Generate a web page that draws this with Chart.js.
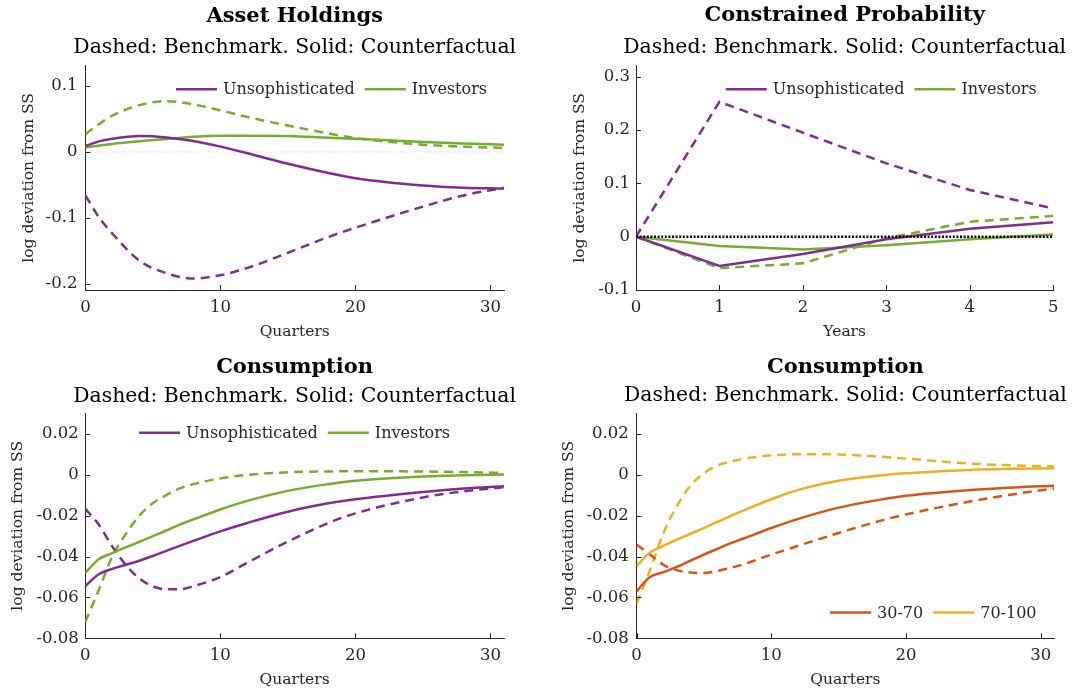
<!DOCTYPE html>
<html>
<head>
<meta charset="utf-8">
<title>Impulse responses</title>
<script src="https://cdn.jsdelivr.net/npm/chart.js@4.4.1/dist/chart.umd.min.js"></script>
<style>
  body { margin: 0; background: #fff; width: 1073px; height: 692px; position: relative; overflow: hidden; }
  canvas { position: absolute; }
</style>
</head>
<body>
<canvas id="assets" width="530" height="345" style="left:0;top:0"></canvas>
<canvas id="prob" width="543" height="345" style="left:530px;top:0"></canvas>
<canvas id="consGroups" width="530" height="347" style="left:0;top:345px"></canvas>
<canvas id="consIncome" width="543" height="347" style="left:530px;top:345px"></canvas>
<script>
/* Asset holdings, quarters */
const assetQuarters = [0, 1, 2, 4, 6, 8, 10, 12, 15, 18, 20, 25, 28, 31];
const assetUnsophBench = [-0.066, -0.099, -0.124, -0.165, -0.184, -0.192, -0.187, -0.176, -0.153, -0.129, -0.115, -0.083, -0.066, -0.0545];
const assetUnsophCounter = [0.009, 0.016, 0.020, 0.024, 0.022, 0.0165, 0.008, -0.002, -0.018, -0.032, -0.040, -0.051, -0.0543, -0.0556];
const assetInvBench = [0.027, 0.042, 0.055, 0.071, 0.077, 0.072, 0.063, 0.053, 0.040, 0.028, 0.021, 0.011, 0.008, 0.006];
const assetInvCounter = [0.007, 0.0095, 0.012, 0.016, 0.0195, 0.023, 0.0245, 0.0246, 0.024, 0.0215, 0.020, 0.015, 0.0128, 0.011];
const assetXTicks = [0, 10, 20, 30];
const assetYTicks = [-0.2, -0.1, 0, 0.1];
const assetZeroX = [0, 31];
const assetZeroY = [0, 0];

/* Constrained probability, years */
const probYears = [0, 1, 2, 3, 4, 5];
const probUnsophBench = [0, 0.253, 0.195, 0.1375, 0.0875, 0.053];
const probUnsophCounter = [0, -0.055, -0.0325, -0.005, 0.015, 0.027];
const probInvBench = [0, -0.059, -0.05, -0.003, 0.028, 0.039];
const probInvCounter = [0, -0.0175, -0.024, -0.016, -0.005, 0.004];
const probXTicks = [0, 1, 2, 3, 4, 5];
const probYTicks = [-0.1, 0, 0.1, 0.2, 0.3];
const probZeroX = [0, 5];
const probZeroY = [0, 0];

/* Consumption, quarters */
const consQuarters = [0, 1, 2, 3, 4, 5, 6, 7, 8, 10, 12, 15, 18, 20, 25, 28, 31];
const consUnsophBench = [-0.0165, -0.0243, -0.035, -0.044, -0.0507, -0.0545, -0.056, -0.056, -0.0545, -0.050, -0.043, -0.0326, -0.0235, -0.0188, -0.011, -0.008, -0.006];
const consUnsophCounter = [-0.0545, -0.0486, -0.046, -0.044, -0.042, -0.0397, -0.0372, -0.0347, -0.0323, -0.0276, -0.0235, -0.018, -0.0139, -0.0119, -0.0083, -0.0066, -0.0055];
const consInvBench = [-0.072, -0.0565, -0.040, -0.029, -0.020, -0.0139, -0.0099, -0.0066, -0.0045, -0.0017, 0, 0.0013, 0.0017, 0.0018, 0.0017, 0.0014, 0.001];
const consInvCounter = [-0.048, -0.0413, -0.0383, -0.0355, -0.0328, -0.030, -0.0272, -0.0243, -0.0218, -0.0169, -0.0127, -0.0078, -0.0045, -0.0028, -0.0008, -0.0002, 0.0002];
const consMidBench = [-0.034, -0.039, -0.044, -0.0466, -0.0478, -0.048, -0.047, -0.0455, -0.0436, -0.039, -0.0347, -0.0284, -0.0226, -0.0193, -0.0127, -0.0094, -0.0066];
const consMidCounter = [-0.057, -0.050, -0.0476, -0.045, -0.042, -0.039, -0.0362, -0.0334, -0.031, -0.026, -0.0215, -0.016, -0.0122, -0.0102, -0.0073, -0.0061, -0.0053];
const consTopBench = [-0.063, -0.0466, -0.0284, -0.0152, -0.0053, 0.0008, 0.0046, 0.0066, 0.008, 0.0096, 0.0102, 0.0100, 0.0090, 0.008, 0.0055, 0.0047, 0.0041];
const consTopCounter = [-0.0446, -0.038, -0.0347, -0.0317, -0.0288, -0.026, -0.023, -0.020, -0.0172, -0.0119, -0.0073, -0.0028, -0.0003, 0.0008, 0.0026, 0.003, 0.0033];
const consXTicks = [0, 10, 20, 30];
const consYTicks = [-0.08, -0.06, -0.04, -0.02, 0, 0.02];

const PURPLE = "#7E2F8E";
const GREEN = "#77AC30";
const ORANGE = "#D95319";
const YELLOW = "#EDB120";
const INK = "#262626";
const SERIF = '"DejaVu Serif", serif';
const SUBTITLE = "Dashed: Benchmark. Solid: Counterfactual";

function series(label, xs, ys, color, dashed, inLegend) {
  return {
    label: label,
    data: xs.map((x, i) => ({ x: x, y: ys[i] })),
    borderColor: color,
    borderWidth: 2.5,
    borderDash: dashed ? [9, 6] : [],
    inLegend: inLegend,
  };
}

/* Title and subtitle centred over the plot area. */
const panelTitle = {
  id: "panelTitle",
  afterDraw(chart, args, opts) {
    const ctx = chart.ctx;
    const a = chart.chartArea;
    const cx = (a.left + a.right) / 2;
    ctx.save();
    ctx.textAlign = "center";
    ctx.textBaseline = "middle";
    ctx.fillStyle = "#000";
    ctx.font = "bold 21px " + SERIF;
    ctx.fillText(opts.title, cx, opts.titleY);
    ctx.font = "20.4px " + SERIF;
    ctx.fillText(SUBTITLE, cx, opts.subY);
    ctx.restore();
  },
};

/* Horizontal legend drawn inside the plot area, solid lines only. */
const innerLegend = {
  id: "innerLegend",
  afterDatasetsDraw(chart, args, opts) {
    const ctx = chart.ctx;
    const a = chart.chartArea;
    const items = chart.data.datasets.filter((d) => d.inLegend);
    const lineLen = 41, gap = 6, sep = 10;
    ctx.save();
    ctx.font = "16px " + SERIF;
    const widths = items.map((d) => lineLen + gap + ctx.measureText(d.label).width);
    const total = widths.reduce((s, w) => s + w, 0) + sep * (items.length - 1);
    let x = opts.align === "center" ? (a.left + a.right - total) / 2 : a.right - opts.inset - total;
    const y = opts.fromBottom ? a.bottom - opts.offsetY : a.top + opts.offsetY;
    items.forEach((d, i) => {
      ctx.strokeStyle = d.borderColor;
      ctx.lineWidth = 2.5;
      ctx.setLineDash([]);
      ctx.beginPath();
      ctx.moveTo(x, y);
      ctx.lineTo(x + lineLen, y);
      ctx.stroke();
      ctx.fillStyle = INK;
      ctx.textAlign = "left";
      ctx.textBaseline = "middle";
      ctx.fillText(d.label, x + lineLen + gap, y + 1);
      x += widths[i] + sep;
    });
    ctx.restore();
  },
};

/* MATLAB style tick marks pointing into the plot. */
const innerTicks = {
  id: "innerTicks",
  afterDraw(chart) {
    const ctx = chart.ctx;
    const a = chart.chartArea;
    const xs = chart.scales.x;
    const ys = chart.scales.y;
    ctx.save();
    ctx.strokeStyle = INK;
    ctx.lineWidth = 1;
    ctx.beginPath();
    xs.ticks.forEach((t) => {
      const p = Math.round(xs.getPixelForValue(t.value)) + 0.5;
      ctx.moveTo(p, a.bottom);
      ctx.lineTo(p, a.bottom - 5);
    });
    ys.ticks.forEach((t) => {
      const p = Math.round(ys.getPixelForValue(t.value)) + 0.5;
      ctx.moveTo(a.left, p);
      ctx.lineTo(a.left + 5, p);
    });
    ctx.stroke();
    ctx.restore();
  },
};

function makePanel(id, o) {
  const tickFont = { family: SERIF, size: 16.5 };
  const titleFont = { family: SERIF, size: 15.5 };
  return new Chart(document.getElementById(id), {
    type: "line",
    data: { datasets: o.datasets },
    options: {
      responsive: false,
      animation: false,
      layout: { padding: { top: o.padTop, right: o.padRight, left: 0, bottom: 0 } },
      elements: {
        point: { radius: 0 },
        line: { cubicInterpolationMode: o.smooth ? "monotone" : "default", tension: 0, borderCapStyle: "butt" },
      },
      plugins: {
        legend: { display: false },
        tooltip: { enabled: false },
        panelTitle: { title: o.title, titleY: o.titleY, subY: o.subY },
        innerLegend: o.legend,
      },
      scales: {
        x: {
          type: "linear",
          min: o.xMin,
          max: o.xMax,
          afterBuildTicks: (s) => { s.ticks = o.xTicks.map((v) => ({ value: v })); },
          afterFit: (s) => { s.height = o.axisH; s.paddingLeft = 0; s.paddingRight = 0; },
          grid: { display: false, drawTicks: false },
          border: { display: true, color: INK, width: 1 },
          ticks: { color: INK, font: tickFont, padding: 8, maxRotation: 0, autoSkip: false, callback: (v) => String(v) },
          title: { display: true, text: o.xTitle, color: INK, font: titleFont, padding: { top: 0, bottom: o.xTitlePad } },
        },
        y: {
          min: o.yMin,
          max: o.yMax,
          afterBuildTicks: (s) => { s.ticks = o.yTicks.map((v) => ({ value: v })); },
          afterFit: (s) => { s.width = o.axisW; s.paddingTop = 0; s.paddingBottom = 0; },
          grid: { display: false, drawTicks: false },
          border: { display: true, color: INK, width: 1 },
          ticks: { color: INK, font: tickFont, padding: o.yTickPad, callback: (v) => String(Math.round(v * 1000) / 1000) },
          title: { display: true, text: "log deviation from SS", color: INK, font: titleFont, padding: { top: o.yTitlePad, bottom: 0 } },
        },
      },
    },
    plugins: [panelTitle, innerLegend, innerTicks],
  });
}

makePanel("assets", {
  title: "Asset Holdings", titleY: 17, subY: 47.5,
  datasets: [
    series("Unsophisticated", assetQuarters, assetUnsophCounter, PURPLE, false, true),
    series("Investors", assetQuarters, assetInvCounter, GREEN, false, true),
    series("Unsophisticated benchmark", assetQuarters, assetUnsophBench, PURPLE, true, false),
    series("Investors benchmark", assetQuarters, assetInvBench, GREEN, true, false),
    Object.assign(series("zero", assetZeroX, assetZeroY, "#c8c8c8", false, false), { borderWidth: 1, borderDash: [1, 2] }),
  ],
  smooth: true,
  xMin: 0, xMax: 31, yMin: -0.2095, yMax: 0.1308,
  xTicks: assetXTicks, yTicks: assetYTicks, xTitle: "Quarters",
  padTop: 65.7, padRight: 26, axisW: 85.4, axisH: 55,
  yTickPad: 8, yTitlePad: 19.5, xTitlePad: 3.5,
  legend: { align: "right", inset: 17, offsetY: 23.6 },
});

makePanel("prob", {
  title: "Constrained Probability", titleY: 16, subY: 47.7,
  datasets: [
    Object.assign(series("zero", probZeroX, probZeroY, "#000", false, false), { borderWidth: 2.5, borderDash: [2, 1.6] }),
    series("Unsophisticated", probYears, probUnsophCounter, PURPLE, false, true),
    series("Investors", probYears, probInvCounter, GREEN, false, true),
    series("Unsophisticated benchmark", probYears, probUnsophBench, PURPLE, true, false),
    series("Investors benchmark", probYears, probInvBench, GREEN, true, false),
  ],
  smooth: false,
  xMin: 0, xMax: 5, yMin: -0.1, yMax: 0.3206,
  xTicks: probXTicks, yTicks: probYTicks, xTitle: "Years",
  padTop: 65.7, padRight: 19.7, axisW: 106, axisH: 55,
  yTickPad: 6, yTitlePad: 40.7, xTitlePad: 3.7,
  legend: { align: "right", inset: 16.6, offsetY: 23.6 },
});

makePanel("consGroups", {
  title: "Consumption", titleY: 23, subY: 51.4,
  datasets: [
    series("Unsophisticated", consQuarters, consUnsophCounter, PURPLE, false, true),
    series("Investors", consQuarters, consInvCounter, GREEN, false, true),
    series("Unsophisticated benchmark", consQuarters, consUnsophBench, PURPLE, true, false),
    series("Investors benchmark", consQuarters, consInvBench, GREEN, true, false),
  ],
  smooth: true,
  xMin: 0, xMax: 31, yMin: -0.08, yMax: 0.0302,
  xTicks: consXTicks, yTicks: consYTicks, xTitle: "Quarters",
  padTop: 68.3, padRight: 26, axisW: 85.2, axisH: 53.7,
  yTickPad: 6.5, yTitlePad: 8.3, xTitlePad: 2.4,
  legend: { align: "center", offsetY: 19.4 },
});

makePanel("consIncome", {
  title: "Consumption", titleY: 23, subY: 51.2,
  datasets: [
    series("30-70", consQuarters, consMidCounter, ORANGE, false, true),
    series("70-100", consQuarters, consTopCounter, YELLOW, false, true),
    series("30-70 benchmark", consQuarters, consMidBench, ORANGE, true, false),
    series("70-100 benchmark", consQuarters, consTopBench, YELLOW, true, false),
  ],
  smooth: true,
  xMin: 0, xMax: 31, yMin: -0.08, yMax: 0.0302,
  xTicks: consXTicks, yTicks: consYTicks, xTitle: "Quarters",
  padTop: 68.3, padRight: 18.7, axisW: 106.5, axisH: 53.7,
  yTickPad: 7.7, yTitlePad: 29.5, xTitlePad: 2.4,
  legend: { align: "right", inset: 17.8, offsetY: 25.8, fromBottom: true },
});
</script>
</body>
</html>
